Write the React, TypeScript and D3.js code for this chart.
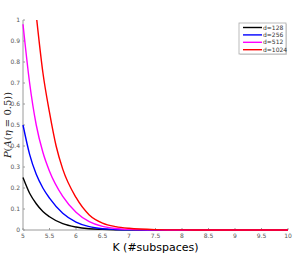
import React from "react";
import * as d3 from "d3";

// K (#subspaces) sample points
const kBlack = [5, 5.125, 5.25, 5.375, 5.5, 5.75, 6, 6.25, 6.5, 6.75, 7, 7.5, 8, 9, 10];
const pBlack = [0.25, 0.175, 0.125, 0.088, 0.063, 0.03, 0.014, 0.006, 0.003, 0.0012, 0.0005, 0.0001, 0, 0, 0];

const kBlue = [5, 5.125, 5.25, 5.375, 5.5, 5.75, 6, 6.25, 6.5, 6.75, 7, 7.5, 8, 9, 10];
const pBlue = [0.5, 0.36, 0.265, 0.2, 0.152, 0.08, 0.038, 0.016, 0.006, 0.0025, 0.001, 0.0002, 0, 0, 0];

const kMagenta = [5, 5.125, 5.25, 5.375, 5.5, 5.75, 6, 6.25, 6.5, 6.75, 7, 7.5, 8, 9, 10];
const pMagenta = [0.98, 0.7, 0.5, 0.37, 0.28, 0.16, 0.085, 0.04, 0.017, 0.007, 0.003, 0.0005, 0.0001, 0, 0];

const kRed = [5.26, 5.375, 5.5, 5.625, 5.75, 6, 6.25, 6.5, 6.75, 7, 7.5, 8, 8.5, 9, 10];
const pRed = [1.0, 0.75, 0.56, 0.4, 0.29, 0.155, 0.072, 0.033, 0.016, 0.008, 0.002, 0.0005, 0.0001, 0, 0];

const seriesNames = ["d=128", "d=256", "d=512", "d=1024"];
const seriesColors = ["#000000", "#0000ff", "#ff00ff", "#ff0000"];

const xTicks = [5, 5.5, 6, 6.5, 7, 7.5, 8, 8.5, 9, 9.5, 10];
const yTicks = [0, 0.1, 0.2, 0.3, 0.4, 0.5, 0.6, 0.7, 0.8, 0.9, 1];

const W = 293;
const H = 259;
const margin = { top: 20, right: 5, bottom: 29, left: 23 };

const App = () => {
  const x = d3.scaleLinear().domain([5, 10]).range([margin.left, W - margin.right]);
  const y = d3.scaleLinear().domain([0, 1]).range([H - margin.bottom, margin.top]);

  const line = d3
    .line<[number, number]>()
    .x((d) => x(d[0]))
    .y((d) => y(d[1]))
    .curve(d3.curveMonotoneX);

  const series = [
    d3.zip(kBlack, pBlack),
    d3.zip(kBlue, pBlue),
    d3.zip(kMagenta, pMagenta),
    d3.zip(kRed, pRed),
  ] as [number, number][][];

  const axisColor = "#9a9a9a";
  const tickFont = { fontFamily: "DejaVu Sans, sans-serif", fontSize: 6, fill: "#555" };
  const y0 = y(0);

  const lgX = 239, lgY = 23, lgW = 47, lgH = 31;

  return (
    <svg width={W} height={H} style={{ position: "absolute", left: 0, top: 0, background: "#fff" }}>
      {/* left axis */}
      <line x1={x(5)} x2={x(5)} y1={y(1)} y2={y0} stroke={axisColor} strokeWidth={1} />
      {yTicks.map((t) => (
        <g key={"y" + t}>
          <line x1={x(5)} x2={x(5) + 2} y1={y(t)} y2={y(t)} stroke={axisColor} />
          <text x={x(5) - 3} y={y(t) + 2} textAnchor="end" {...tickFont}>
            {t}
          </text>
        </g>
      ))}
      {/* bottom axis */}
      <line x1={x(5)} x2={x(10)} y1={y0} y2={y0} stroke={axisColor} strokeWidth={1} />
      {xTicks.map((t) => (
        <g key={"x" + t}>
          <line x1={x(t)} x2={x(t)} y1={y0} y2={y0 - 2} stroke={axisColor} />
          <text x={x(t)} y={y0 + 8} textAnchor="middle" {...tickFont}>
            {t}
          </text>
        </g>
      ))}

      {series.map((s, i) => (
        <path key={i} d={line(s) || ""} fill="none" stroke={seriesColors[i]} strokeWidth={1.4} />
      ))}

      <text x={(x(5) + x(10)) / 2} y={251} textAnchor="middle"
        style={{ fontFamily: "DejaVu Sans, sans-serif", fontSize: 11 }} fill="#000">
        K (#subspaces)
      </text>
      <text transform={`translate(11,${(y(0) + y(1)) / 2}) rotate(-90)`} textAnchor="middle"
        style={{ fontFamily: "DejaVu Serif, serif", fontSize: 10 }} fill="#222">
        <tspan fontStyle="italic">P</tspan>(<tspan fontStyle="italic">A</tspan>(<tspan fontStyle="italic">η</tspan> = 0.5))
      </text>

      {/* legend */}
      <rect x={lgX + 1} y={lgY + 1} width={lgW} height={lgH} fill="#ddd" />
      <rect x={lgX} y={lgY} width={lgW} height={lgH} fill="#fff" stroke="#aaa" strokeWidth={0.8} />
      {seriesNames.map((n, i) => {
        const ry = lgY + 4.5 + i * 7.4;
        return (
          <g key={n}>
            <line x1={lgX + 4} x2={lgX + 23} y1={ry} y2={ry} stroke={seriesColors[i]} strokeWidth={1.4} />
            <text x={lgX + 24} y={ry + 2} {...tickFont} fill="#333">
              {n}
            </text>
          </g>
        );
      })}
    </svg>
  );
};

export default App;
